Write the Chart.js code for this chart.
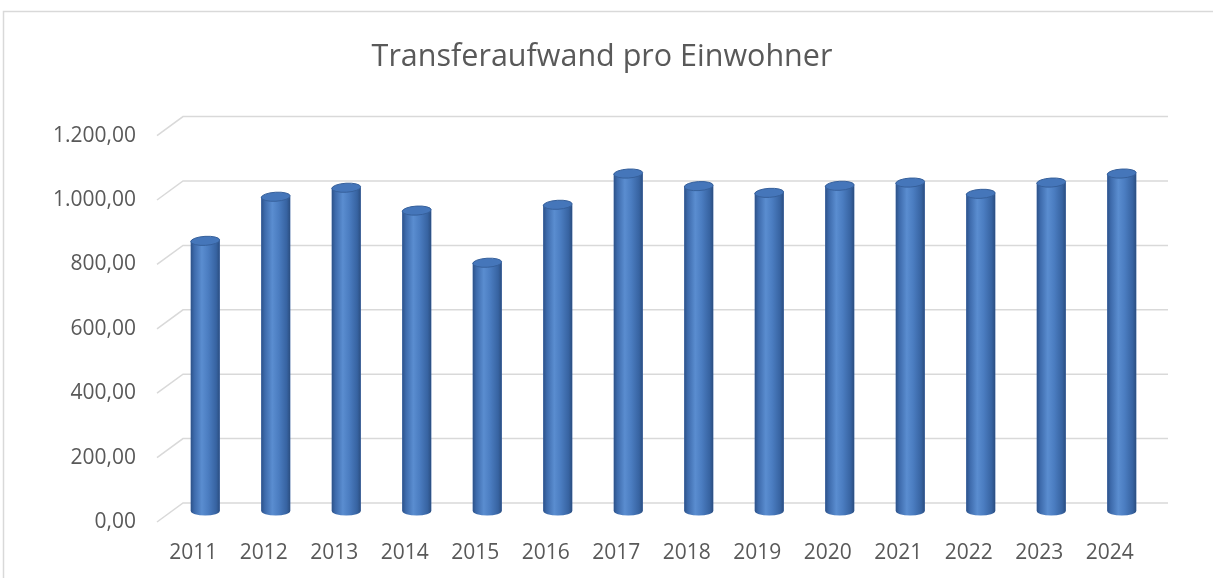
<!DOCTYPE html>
<html>
<head>
<meta charset="utf-8">
<script src="https://cdn.jsdelivr.net/npm/chart.js@4.4.1/dist/chart.umd.min.js"></script>
<style>
  html, body { margin: 0; padding: 0; background: #ffffff; overflow: hidden; }
  #box { width: 1213px; height: 578px; position: relative; }
</style>
</head>
<body>
<div id="box"><canvas id="canvas"></canvas></div>
<script>
/* daten */
var jahre = ['2011', '2012', '2013', '2014', '2015', '2016', '2017', '2018', '2019', '2020', '2021', '2022', '2023', '2024'];
var aufwand = [839, 976, 1004, 933, 771, 951, 1048, 1009, 988, 1010, 1020, 985, 1020, 1048];
var yTicks = [0, 200, 400, 600, 800, 1000, 1200];

var textColor = '#595959';
var gridColor = '#d9d9d9';

function formatDE(v) {
  var parts = v.toFixed(2).split('.');
  var int = parts[0].replace(/\B(?=(\d{3})+(?!\d))/g, '.');
  return int + ',' + parts[1];
}

/* rahmen + 3d gitter */
var gridPlugin = {
  id: 'grid3d',
  beforeDraw: function(chart) {
    var c = chart.ctx;
    c.save();
    c.fillStyle = '#ffffff';
    c.fillRect(0, 0, chart.width, chart.height);
    c.strokeStyle = gridColor;
    c.lineWidth = 1.5;
    c.beginPath();
    c.moveTo(3.5, chart.height);
    c.lineTo(3.5, 11.5);
    c.lineTo(chart.width, 11.5);
    c.stroke();
    c.restore();
  },
  beforeDatasetsDraw: function(chart) {
    var c = chart.ctx;
    var y = chart.scales.y;
    var area = chart.chartArea;
    c.save();
    c.strokeStyle = gridColor;
    c.lineWidth = 1.5;
    yTicks.forEach(function(v) {
      var py = y.getPixelForValue(v);
      c.beginPath();
      c.moveTo(area.left - 13, py + 11);
      c.lineTo(area.left + 13, py - 8);
      c.lineTo(area.right + 11, py - 8);
      c.stroke();
    });
    c.restore();
  }
};

/* zylinder */
var cylPlugin = {
  id: 'cylinder',
  afterDatasetsDraw: function(chart) {
    var c = chart.ctx;
    var meta = chart.getDatasetMeta(0);
    var ry = 4.5;
    c.save();
    meta.data.forEach(function(bar) {
      var w = bar.width;
      var l = bar.x - w / 2;
      var r = bar.x + w / 2;
      var g = c.createLinearGradient(l, 0, r, 0);
      g.addColorStop(0, '#2d5288');
      g.addColorStop(0.12, '#3d6aab');
      g.addColorStop(0.38, '#5a8dd0');
      g.addColorStop(0.6, '#4b7dc1');
      g.addColorStop(0.88, '#3763a1');
      g.addColorStop(1, '#2b4e80');
      c.fillStyle = g;
      c.beginPath();
      c.moveTo(l, bar.y);
      c.lineTo(l, bar.base);
      c.ellipse(bar.x, bar.base, w / 2, ry, 0, Math.PI, 0, true);
      c.lineTo(r, bar.y);
      c.closePath();
      c.fill();
      // deckel
      c.beginPath();
      c.ellipse(bar.x, bar.y, w / 2, ry, -0.06, 0, Math.PI * 2);
      c.fillStyle = '#4576ba';
      c.fill();
      c.strokeStyle = '#36609b';
      c.lineWidth = 1;
      c.stroke();
    });
    c.restore();
  }
};

var ctx = document.getElementById('canvas');
new Chart(ctx, {
  type: 'bar',
  data: {
    labels: jahre,
    datasets: [{
      label: 'Transferaufwand pro Einwohner',
      data: aufwand,
      backgroundColor: '#4472c4',
      borderWidth: 0,
      barPercentage: 0.41,
      categoryPercentage: 1
    }]
  },
  options: {
    responsive: true,
    maintainAspectRatio: false,
    animation: false,
    layout: {
      padding: { left: 0, right: 9, top: 0, bottom: 0 }
    },
    plugins: {
      legend: { display: false },
      tooltip: { enabled: false },
      title: {
        display: true,
        text: 'Transferaufwand pro Einwohner',
        color: textColor,
        font: { family: 'Open Sans', size: 30.5, weight: 'normal' },
        padding: { top: 39, bottom: 49 }
      }
    },
    scales: {
      x: {
        grid: { display: false, drawTicks: false },
        border: { display: false },
        ticks: {
          color: textColor,
          font: { family: 'Open Sans', size: 21 },
          padding: 29,
          labelOffset: -12,
          maxRotation: 0
        },
        afterFit: function(scale) { scale.height = 67; }
      },
      y: {
        min: 0,
        max: 1200,
        grid: { display: false, drawTicks: false },
        border: { display: false },
        ticks: {
          stepSize: 200,
          color: textColor,
          font: { family: 'Open Sans', size: 21 },
          padding: 34,
          labelOffset: 11,
          callback: function(v) { return formatDE(v); }
        },
        afterFit: function(scale) { scale.width = 170; }
      },
      // leerer rand rechts
      y2: {
        position: 'right',
        min: 0,
        max: 1200,
        grid: { display: false, drawTicks: false },
        border: { display: false },
        ticks: { display: false },
        afterFit: function(scale) { scale.width = 47; }
      }
    }
  },
  plugins: [gridPlugin, cylPlugin]
});
</script>
</body>
</html>
